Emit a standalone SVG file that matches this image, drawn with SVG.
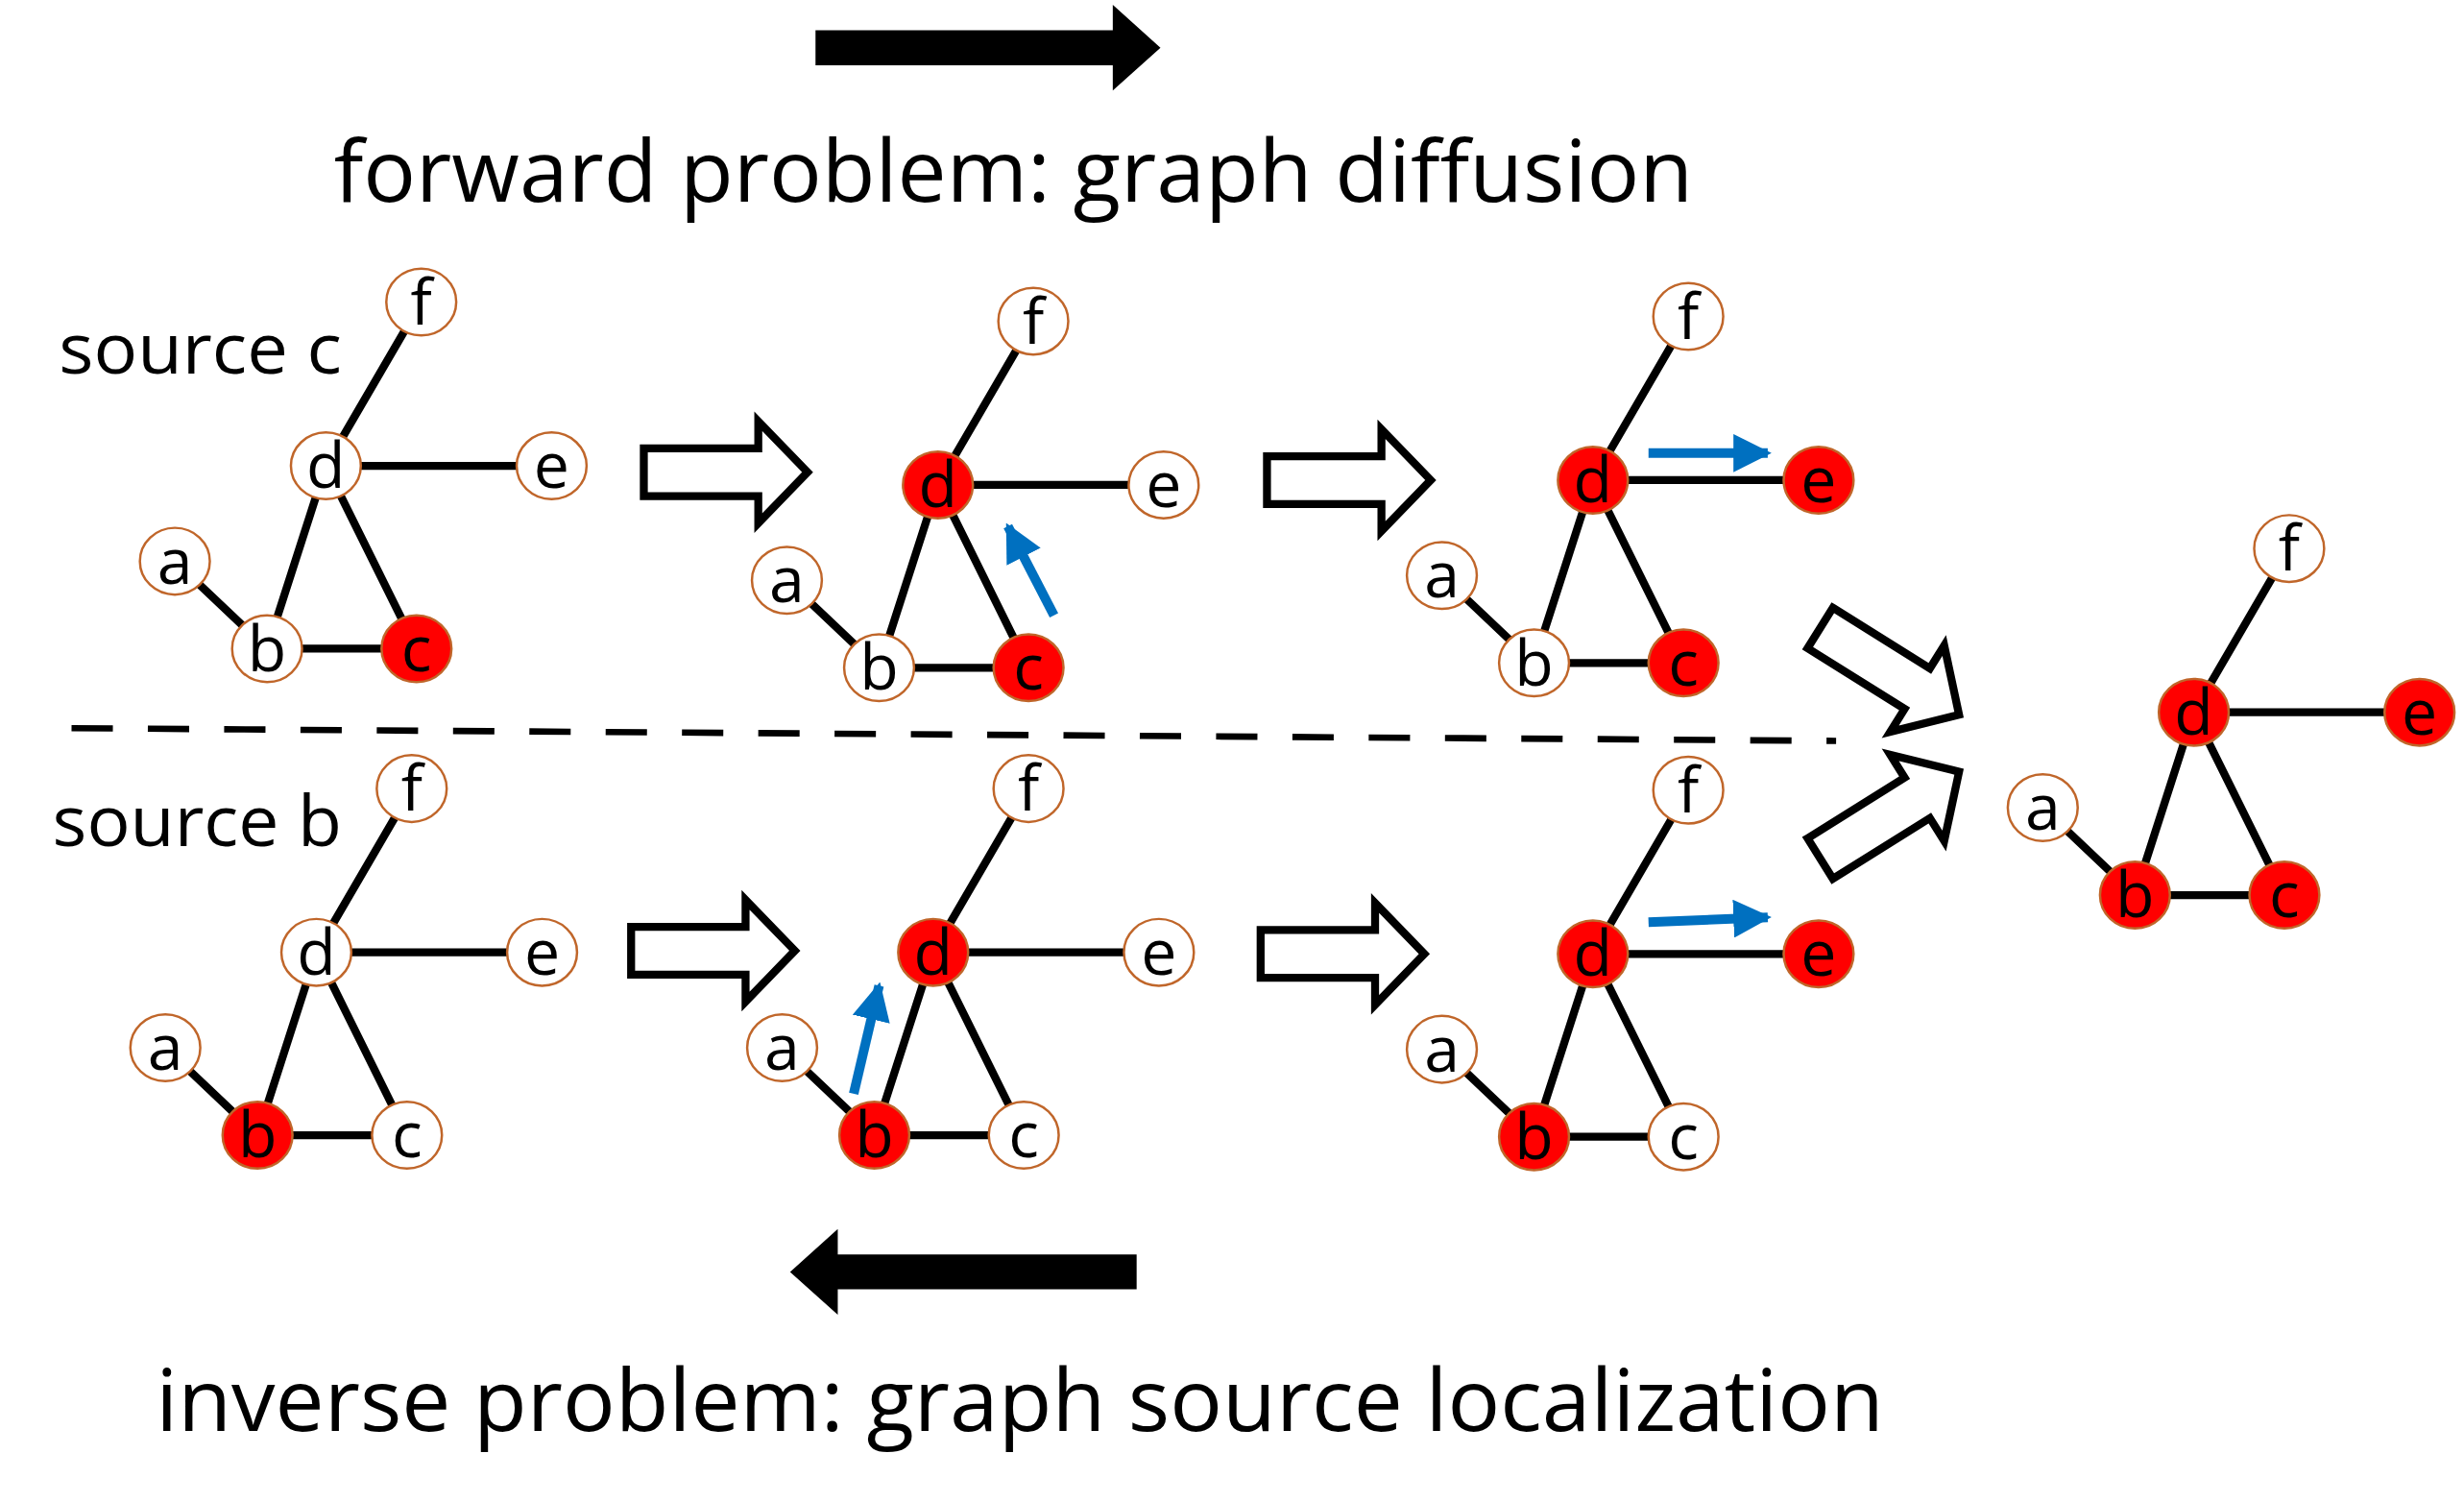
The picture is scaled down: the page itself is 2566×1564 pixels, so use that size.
<svg xmlns="http://www.w3.org/2000/svg" width="2566" height="1564" viewBox="0 0 2566 1564">
<defs>
<style>
.n{fill:#fff;stroke:#c0662a;stroke-width:1.5}
.r{fill:#ff0000;stroke:#c0662a;stroke-width:1.5}
.t{font-family:"Open Sans","DejaVu Sans",sans-serif;font-size:40px;text-anchor:middle;fill:#000}
.lab{font-family:"Open Sans","DejaVu Sans",sans-serif;fill:#000}
.e{stroke:#000;stroke-width:5;fill:none}
.ha{fill:#fff;stroke:#000;stroke-width:5}
.bl{stroke:#0070c0;stroke-width:6;fill:none}
</style>
<marker id="bh" viewBox="0 0 10 10" refX="9" refY="5" markerWidth="4" markerHeight="4" markerUnits="strokeWidth" orient="auto"><path d="M0,0L10,5L0,10z" fill="#0070c0"/></marker>
<path id="hollow" d="M0,-15H72V-32L103,0L72,32V15H0Z"/>
<path id="gedges" d="M0,0L60,-103M0,0H142M0,0L-37,115M0,0L57,115M-37,115H57M-37,115L-95,60"/>
</defs>
<rect width="2566" height="1564" fill="#fff"/>
<g transform="scale(1.6555)">
<g id="connectors">
<use href="#gedges" class="e" transform="translate(205,293)"/>
<use href="#gedges" class="e" transform="translate(590,305)"/>
<use href="#gedges" class="e" transform="translate(1002,302)"/>
<use href="#gedges" class="e" transform="translate(1380,448)"/>
<use href="#gedges" class="e" transform="translate(199,599)"/>
<use href="#gedges" class="e" transform="translate(587,599)"/>
<use href="#gedges" class="e" transform="translate(1002,600)"/>
<use href="#hollow" class="ha" transform="translate(405,297)"/>
<use href="#hollow" class="ha" transform="translate(797,302)"/>
<use href="#hollow" class="ha" transform="translate(397,598)"/>
<use href="#hollow" class="ha" transform="translate(793,600)"/>
<use href="#hollow" class="ha" transform="translate(1145,395) rotate(32)"/>
<use href="#hollow" class="ha" transform="translate(1145,540) rotate(-32)"/>
<line class="bl" x1="663" y1="387" x2="634" y2="331" marker-end="url(#bh)"/>
<line class="bl" x1="1037" y1="285" x2="1112" y2="285" marker-end="url(#bh)"/>
<line class="bl" x1="537" y1="688" x2="553" y2="620" marker-end="url(#bh)"/>
<line class="bl" x1="1037" y1="580" x2="1112" y2="577" marker-end="url(#bh)"/>
<line x1="45" y1="458" x2="1155" y2="466" stroke="#000" stroke-width="4" stroke-dasharray="26,22"/>
<path d="M513,19H700V3L730,30L700,57V41H513Z" fill="#000"/>
<path d="M715,789H527V773L497,800L527,827V811H715Z" fill="#000"/>
</g>
<g id="labels">
<text class="lab" x="210" y="127" font-size="54" textLength="855" lengthAdjust="spacingAndGlyphs">forward problem: graph diffusion</text>
<text class="lab" x="98" y="900" font-size="54" textLength="1087" lengthAdjust="spacingAndGlyphs">inverse problem: graph source localization</text>
<text class="lab" x="37" y="235" font-size="44" textLength="178" lengthAdjust="spacingAndGlyphs">source c</text>
<text class="lab" x="33" y="532" font-size="44" textLength="182" lengthAdjust="spacingAndGlyphs">source b</text>
</g>
<g id="g1-f"><ellipse class="n" cx="265" cy="190" rx="22" ry="21"/><text class="t" x="265" y="204">f</text></g>
<g id="g1-d"><ellipse class="n" cx="205" cy="293" rx="22" ry="21"/><text class="t" x="205" y="307">d</text></g>
<g id="g1-e"><ellipse class="n" cx="347" cy="293" rx="22" ry="21"/><text class="t" x="347" y="307">e</text></g>
<g id="g1-a"><ellipse class="n" cx="110" cy="353" rx="22" ry="21"/><text class="t" x="110" y="367">a</text></g>
<g id="g1-b"><ellipse class="n" cx="168" cy="408" rx="22" ry="21"/><text class="t" x="168" y="422">b</text></g>
<g id="g1-c"><ellipse class="r" cx="262" cy="408" rx="22" ry="21"/><text class="t" x="262" y="422">c</text></g>

<g id="g2-f"><ellipse class="n" cx="650" cy="202" rx="22" ry="21"/><text class="t" x="650" y="216">f</text></g>
<g id="g2-d"><ellipse class="r" cx="590" cy="305" rx="22" ry="21"/><text class="t" x="590" y="319">d</text></g>
<g id="g2-e"><ellipse class="n" cx="732" cy="305" rx="22" ry="21"/><text class="t" x="732" y="319">e</text></g>
<g id="g2-a"><ellipse class="n" cx="495" cy="365" rx="22" ry="21"/><text class="t" x="495" y="379">a</text></g>
<g id="g2-b"><ellipse class="n" cx="553" cy="420" rx="22" ry="21"/><text class="t" x="553" y="434">b</text></g>
<g id="g2-c"><ellipse class="r" cx="647" cy="420" rx="22" ry="21"/><text class="t" x="647" y="434">c</text></g>

<g id="g3-f"><ellipse class="n" cx="1062" cy="199" rx="22" ry="21"/><text class="t" x="1062" y="213">f</text></g>
<g id="g3-d"><ellipse class="r" cx="1002" cy="302" rx="22" ry="21"/><text class="t" x="1002" y="316">d</text></g>
<g id="g3-e"><ellipse class="r" cx="1144" cy="302" rx="22" ry="21"/><text class="t" x="1144" y="316">e</text></g>
<g id="g3-a"><ellipse class="n" cx="907" cy="362" rx="22" ry="21"/><text class="t" x="907" y="376">a</text></g>
<g id="g3-b"><ellipse class="n" cx="965" cy="417" rx="22" ry="21"/><text class="t" x="965" y="431">b</text></g>
<g id="g3-c"><ellipse class="r" cx="1059" cy="417" rx="22" ry="21"/><text class="t" x="1059" y="431">c</text></g>

<g id="g7-f"><ellipse class="n" cx="1440" cy="345" rx="22" ry="21"/><text class="t" x="1440" y="359">f</text></g>
<g id="g7-d"><ellipse class="r" cx="1380" cy="448" rx="22" ry="21"/><text class="t" x="1380" y="462">d</text></g>
<g id="g7-e"><ellipse class="r" cx="1522" cy="448" rx="22" ry="21"/><text class="t" x="1522" y="462">e</text></g>
<g id="g7-a"><ellipse class="n" cx="1285" cy="508" rx="22" ry="21"/><text class="t" x="1285" y="522">a</text></g>
<g id="g7-b"><ellipse class="r" cx="1343" cy="563" rx="22" ry="21"/><text class="t" x="1343" y="577">b</text></g>
<g id="g7-c"><ellipse class="r" cx="1437" cy="563" rx="22" ry="21"/><text class="t" x="1437" y="577">c</text></g>

<g id="g4-f"><ellipse class="n" cx="259" cy="496" rx="22" ry="21"/><text class="t" x="259" y="510">f</text></g>
<g id="g4-d"><ellipse class="n" cx="199" cy="599" rx="22" ry="21"/><text class="t" x="199" y="613">d</text></g>
<g id="g4-e"><ellipse class="n" cx="341" cy="599" rx="22" ry="21"/><text class="t" x="341" y="613">e</text></g>
<g id="g4-a"><ellipse class="n" cx="104" cy="659" rx="22" ry="21"/><text class="t" x="104" y="673">a</text></g>
<g id="g4-b"><ellipse class="r" cx="162" cy="714" rx="22" ry="21"/><text class="t" x="162" y="728">b</text></g>
<g id="g4-c"><ellipse class="n" cx="256" cy="714" rx="22" ry="21"/><text class="t" x="256" y="728">c</text></g>

<g id="g5-f"><ellipse class="n" cx="647" cy="496" rx="22" ry="21"/><text class="t" x="647" y="510">f</text></g>
<g id="g5-d"><ellipse class="r" cx="587" cy="599" rx="22" ry="21"/><text class="t" x="587" y="613">d</text></g>
<g id="g5-e"><ellipse class="n" cx="729" cy="599" rx="22" ry="21"/><text class="t" x="729" y="613">e</text></g>
<g id="g5-a"><ellipse class="n" cx="492" cy="659" rx="22" ry="21"/><text class="t" x="492" y="673">a</text></g>
<g id="g5-b"><ellipse class="r" cx="550" cy="714" rx="22" ry="21"/><text class="t" x="550" y="728">b</text></g>
<g id="g5-c"><ellipse class="n" cx="644" cy="714" rx="22" ry="21"/><text class="t" x="644" y="728">c</text></g>

<g id="g6-f"><ellipse class="n" cx="1062" cy="497" rx="22" ry="21"/><text class="t" x="1062" y="511">f</text></g>
<g id="g6-d"><ellipse class="r" cx="1002" cy="600" rx="22" ry="21"/><text class="t" x="1002" y="614">d</text></g>
<g id="g6-e"><ellipse class="r" cx="1144" cy="600" rx="22" ry="21"/><text class="t" x="1144" y="614">e</text></g>
<g id="g6-a"><ellipse class="n" cx="907" cy="660" rx="22" ry="21"/><text class="t" x="907" y="674">a</text></g>
<g id="g6-b"><ellipse class="r" cx="965" cy="715" rx="22" ry="21"/><text class="t" x="965" y="729">b</text></g>
<g id="g6-c"><ellipse class="n" cx="1059" cy="715" rx="22" ry="21"/><text class="t" x="1059" y="729">c</text></g>
</g>
</svg>
